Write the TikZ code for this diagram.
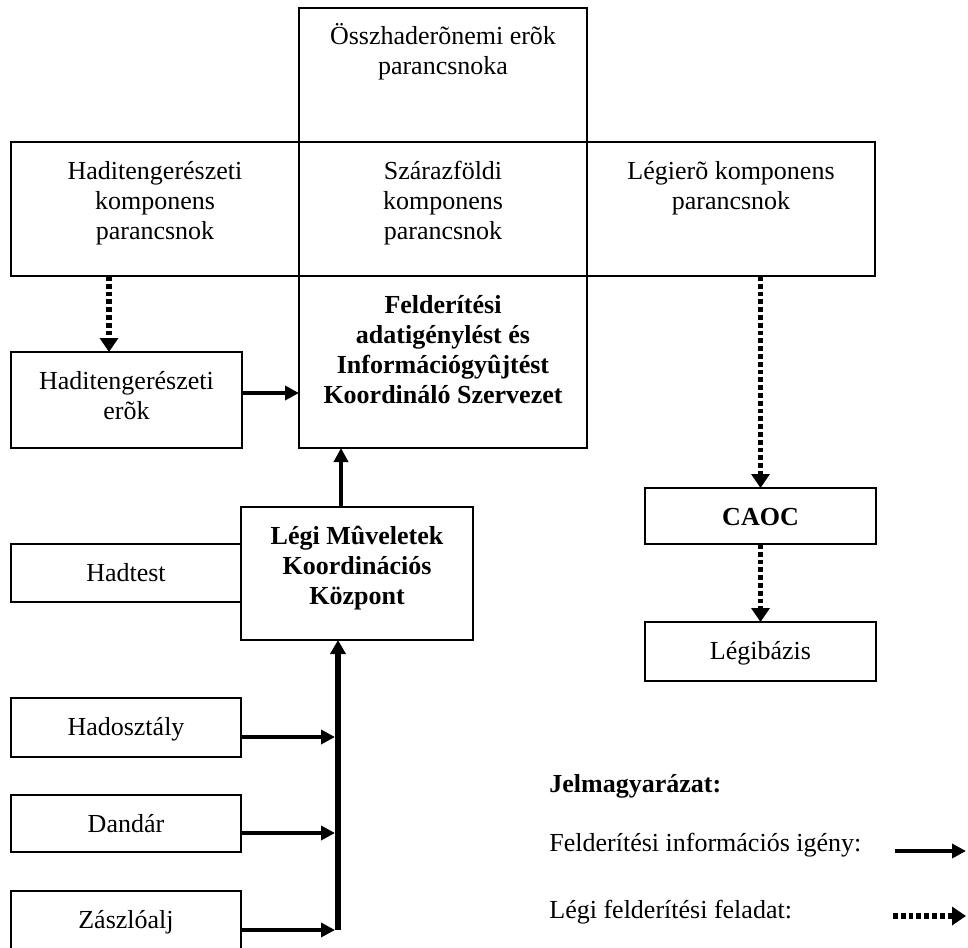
\documentclass[tikz,border=0pt]{standalone}
\usepackage{fontspec}
\setmainfont{Liberation Serif}
\usetikzlibrary{arrows.meta}

% Box from corner (x1,y1) to (x2,y2), given in drawing units (0.5pt);
% the text sits at the top of the box, centred.
\newcommand\orgbox[6]{%
  \node[orgnode] (#1) at (#2,#3)
    {\parbox[c][\dimexpr\numexpr#5-#3\relax pt/2\relax][t]{\dimexpr\numexpr#4-#2\relax pt/2\relax}%
      {\centering\rule{0pt}{18.5pt}#6\par}};}

\tikzset{
  orgnode/.style={draw, line width=1pt, inner sep=0pt, outer sep=0pt,
    anchor=north west, font=\fontsize{13pt}{15pt}\selectfont},
  legtext/.style={anchor=base west, inner sep=0pt, font=\fontsize{13pt}{15pt}\selectfont},
  req/.style={line width=1.9pt, -{Triangle[length=7pt,width=7pt]}},
  requp/.style={line width=2.4pt, -{Triangle[length=7pt,width=7pt]}},
  busline/.style={line width=3pt, -{Triangle[length=7pt,width=7.5pt]}},
  task/.style={line width=2.6pt, dash pattern=on 2.4pt off 1.5pt,
    -{Triangle[length=7pt,width=9pt]}}
}

\begin{document}
\begin{tikzpicture}[x=0.5pt, y=-0.5pt]
\useasboundingbox (0,0) rectangle (968,947);

% command structure
\orgbox{joint}{299}{8}{587}{142}{Összhaderõnemi erõk\\parancsnoka}
\orgbox{navy}{11}{142}{299}{276}{Haditengerészeti\\komponens\\parancsnok}
\orgbox{land}{299}{142}{587}{276}{Szárazföldi\\komponens\\parancsnok}
\orgbox{air}{587}{142}{875}{276}{Légierõ komponens\\parancsnok}
\orgbox{jisr}{299}{276}{587}{448}{\bfseries Felderítési\\adatigénylést és\\Információgyûjtést\\Koordináló Szervezet}
\orgbox{navyf}{11}{352}{242}{448}{Haditengerészeti\\erõk}
\orgbox{aocc}{241}{507}{473}{640}{\bfseries Légi Mûveletek\\Koordinációs\\Központ}
\orgbox{corps}{11}{544}{241}{602}{Hadtest}
\orgbox{caoc}{645}{488}{876}{544}{\bfseries CAOC}
\orgbox{base}{645}{622}{876}{681}{Légibázis}
\orgbox{div}{11}{698}{241}{757}{Hadosztály}
\orgbox{bde}{11}{795}{241}{852}{Dandár}
\orgbox{bn}{11}{891}{241}{950}{Zászlóalj}

% air reconnaissance tasking (dashed)
\coordinate (navydown) at ([xshift=49pt]navy.south west);
\draw[task] (navydown) -- (navydown |- navyf.north);
\draw[task] (caoc.north |- air.south) -- (caoc.north);
\draw[task] (caoc.south) -- (base.north);

% intelligence requests (solid)
\coordinate (navyfout) at ([yshift=3.5pt]navyf.east);
\draw[req] (navyfout) -- (navyfout -| jisr.west);
\coordinate (aoccup) at ([xshift=50pt]aocc.north west);
\draw[requp] (aoccup) -- (aoccup |- jisr.south);

\coordinate (busfoot) at (338,930);
\draw[busline] (busfoot) -- (busfoot |- aocc.south);
\coordinate (divout) at ([yshift=-4.75pt]div.east);
\coordinate (bdeout) at ([yshift=-4.75pt]bde.east);
\coordinate (bnout) at ([yshift=-4.75pt]bn.east);
\draw[req, shorten >=1.5pt] (divout) -- (divout -| busfoot);
\draw[req, shorten >=1.5pt] (bdeout) -- (bdeout -| busfoot);
\draw[req, shorten >=1.5pt] (bnout) -- (bnout -| busfoot);

% legend
\node[legtext, font=\fontsize{13pt}{15pt}\selectfont\bfseries] (legtitle) at (549,792) {Jelmagyarázat:};
\node[legtext] (legreq) at (549,851) {Felderítési információs igény:};
\node[legtext] (legtask) at (549,918) {Légi felderítési feladat:};
\coordinate (lreqa) at (895,851);
\coordinate (lreqb) at (966,851);
\coordinate (ltaska) at (893,916);
\coordinate (ltaskb) at (966,916);
\draw[req] (lreqa) -- (lreqb);
\draw[task] (ltaska) -- (ltaskb);
\end{tikzpicture}
\end{document}
